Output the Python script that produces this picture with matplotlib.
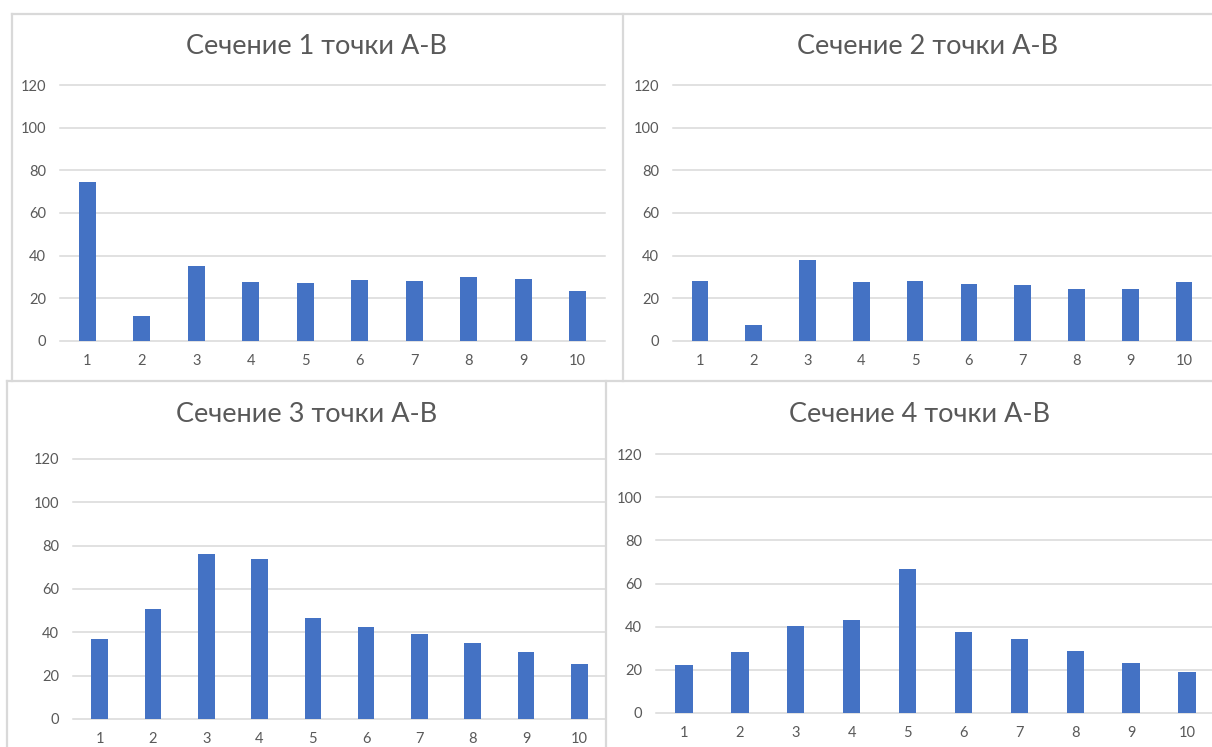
import matplotlib
matplotlib.use("Agg")
import matplotlib.pyplot as plt
from matplotlib.lines import Line2D

plt.rcParams['font.family'] = ['Lato', 'Noto Sans', 'DejaVu Sans']

# Sample points along each section
points = [1, 2, 3, 4, 5, 6, 7, 8, 9, 10]

section1 = [74.7, 11.7, 35.3, 27.7, 27.2, 28.4, 28.0, 30.0, 28.9, 23.4]
section2 = [28.3, 7.3, 38.0, 27.5, 28.0, 26.9, 26.1, 24.5, 24.5, 27.5]
section3 = [36.9, 50.6, 76.2, 73.8, 46.8, 42.6, 39.1, 35.2, 31.1, 25.2]
section4 = [22.1, 28.2, 40.1, 43.2, 66.5, 37.3, 34.4, 28.5, 23.1, 19.0]

titles = ['Сечение 1 точки А-В', 'Сечение 2 точки А-В',
          'Сечение 3 точки А-В', 'Сечение 4 точки А-В']
series = [section1, section2, section3, section4]
yticks = [0, 20, 40, 60, 80, 100, 120]

W, H = 1212, 747
BAR = '#4472C4'
GRID = '#D9D9D9'
TEXT = '#595959'
BORDER = '#D9D9D9'

fig = plt.figure(figsize=(W / 100, H / 100), dpi=100)
fig.patch.set_facecolor('white')

# plot areas in pixels: left, right, y of 0, y of 120, title centre x, title centre y
layout = [
    (60, 605, 341, 85, 317, 46),
    (673, 1211, 341, 85, 928, 46),
    (73, 606, 719, 459, 307, 414),
    (656, 1215, 713, 454, 920, 414),
]


def hline(y, x0, x1):
    fig.add_artist(Line2D([x0 / W, x1 / W], [1 - y / H, 1 - y / H],
                          color=BORDER, lw=1.6, transform=fig.transFigure))


def vline(x, y0, y1):
    fig.add_artist(Line2D([x / W, x / W], [1 - y0 / H, 1 - y1 / H],
                          color=BORDER, lw=1.6, transform=fig.transFigure))


# chart frames
hline(13.5, 11.7, W)
vline(11.7, 13.5, 381)
vline(623, 13.5, 381)
hline(381, 7.3, W)
vline(7.3, 381, H)
vline(606, 381, H)

for (x0, x1, y0, y1, tx, ty), vals, title in zip(layout, series, titles):
    ax = fig.add_axes([x0 / W, 1 - y0 / H, (x1 - x0) / W, (y0 - y1) / H])
    ax.set_facecolor('none')
    ax.bar(points, vals, width=0.31, color=BAR, zorder=3)
    ax.set_xlim(0.5, 10.5)
    ax.set_ylim(0, 120)
    ax.set_yticks(yticks)
    ax.set_xticks(points)
    ax.set_xticklabels([str(p) for p in points])
    ax.grid(axis='y', color=GRID, lw=1.1, zorder=0)
    for s in ['top', 'right', 'left', 'bottom']:
        ax.spines[s].set_visible(False)
    ax.tick_params(axis='y', length=0, pad=10, labelsize=10.5, labelcolor=TEXT)
    ax.tick_params(axis='x', length=0, pad=9.5, labelsize=10.5, labelcolor=TEXT)
    for gl in ax.get_ygridlines():
        gl.set_clip_on(False)
    fig.text(tx / W, 1 - ty / H, title, ha='center', va='center',
             fontsize=19.5, color=TEXT)

fig.savefig('out.png', dpi=100, facecolor='white')
